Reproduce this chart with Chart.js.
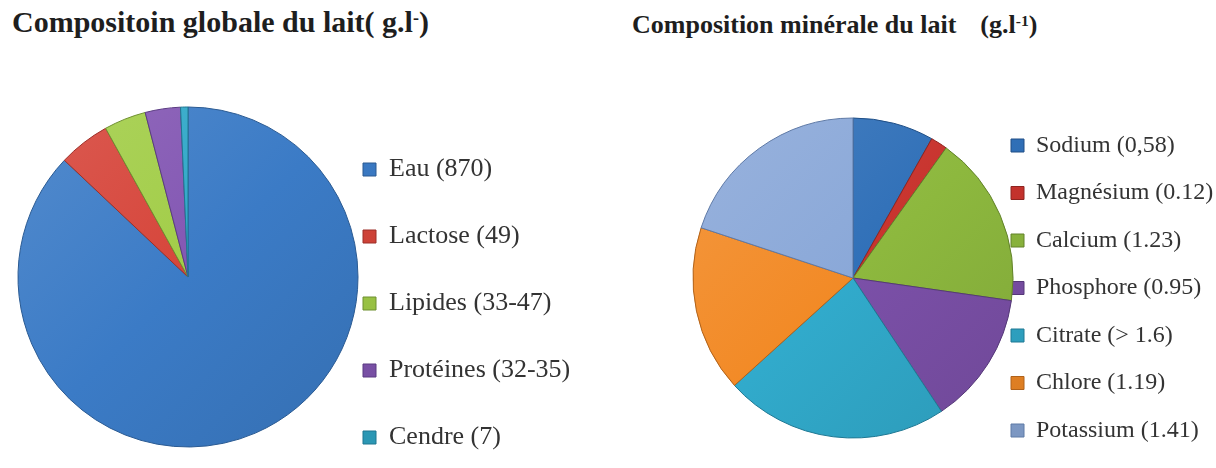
<!DOCTYPE html>
<html>
<head>
<meta charset="utf-8">
<script src="https://cdn.jsdelivr.net/npm/chart.js@4"></script>
<style>
  html, body { margin: 0; padding: 0; background: #fff; }
  body { width: 1216px; height: 468px; overflow: hidden; position: relative; font-family: "Liberation Serif", "Times New Roman", serif; }
  .title { position: absolute; font-weight: bold; color: #1e1e1e; white-space: nowrap; line-height: 1; }
  .title sup { font-size: 0.6em; vertical-align: 0.45em; line-height: 0; }
  .box { position: absolute; top: 0; width: 608px; height: 500px; }
</style>
</head>
<body>
<div class="title" style="left:12px; top:7px; font-size:30px;">Compositoin globale du lait( g.l<sup>-</sup>)</div>
<div class="title" style="left:632px; top:12px; font-size:26px;">Composition minérale du lait<span style="margin-left:24px">(g.l<sup>-1</sup>)</span></div>
<div class="box" style="left:0"><canvas id="globalChart"></canvas></div>
<div class="box" style="left:608px"><canvas id="mineralChart"></canvas></div>
<script>
// composition globale (g/l)
const globalLabels = ['Eau (870)', 'Lactose (49)', 'Lipides (33-47)', 'Protéines (32-35)', 'Cendre (7)'];
const globalValues = [870, 49, 40, 33.5, 7];
const globalColors = ['#3b7bc6', '#d6453a', '#a2cd48', '#8357b3', '#30a8c8'];
const globalBorders = ['#2a5a92', '#9c2f28', '#6f9030', '#5a3a82', '#1f7691'];

// composition minérale (g/l)
const mineralLabels = ['Sodium (0,58)', 'Magnésium (0.12)', 'Calcium (1.23)', 'Phosphore (0.95)', 'Citrate (> 1.6)', 'Chlore (1.19)', 'Potassium (1.41)'];
const mineralValues = [0.58, 0.12, 1.23, 0.95, 1.6, 1.19, 1.41];
const mineralColors = ['#3070b8', '#c8332d', '#8db83e', '#7b50a8', '#31aacb', '#f28a26', '#8aa8d8'];
const mineralBorders = ['#204f86', '#8e2420', '#62822a', '#553878', '#1f7893', '#b0621a', '#5f7aa6'];

// mix a hex colour with white (amt > 0) or black (amt < 0)
function shade(hex, amt) {
  const n = parseInt(hex.slice(1), 16);
  const t = amt < 0 ? 0 : 255, p = Math.abs(amt);
  const c = [n >> 16, (n >> 8) & 255, n & 255].map(v => Math.round(v + (t - v) * p));
  return 'rgb(' + c.join(',') + ')';
}

// legend box gets a fixed width so the long labels are not clipped
const legendWidth = {
  id: 'legendWidth',
  beforeInit(chart, args, opts) {
    const legend = chart.legend;
    const fit = legend.fit;
    legend.fit = function () {
      fit.call(this);
      this.width = opts.width;
    };
  }
};

function pieChart(id, labels, values, colors, borders, radius, pad, fontSize, gap, legendW) {
  return new Chart(document.getElementById(id), {
    type: 'pie',
    data: {
      labels: labels,
      datasets: [{
        data: values,
        backgroundColor: function (ctx) {
          const base = colors[ctx.dataIndex];
          const area = ctx.chart.chartArea;
          if (!area) return base;
          const cx = (area.left + area.right) / 2, cy = (area.top + area.bottom) / 2;
          const g = ctx.chart.ctx.createLinearGradient(cx - radius, cy - radius, cx + radius, cy + radius);
          g.addColorStop(0, shade(base, 0.12));
          g.addColorStop(0.5, base);
          g.addColorStop(1, shade(base, -0.1));
          return g;
        },
        borderColor: borders,
        borderWidth: 1,
        radius: radius,
        hoverOffset: 0
      }]
    },
    plugins: [legendWidth],
    options: {
      responsive: true,
      maintainAspectRatio: false,
      animation: false,
      layout: { padding: pad },
      plugins: {
        tooltip: { enabled: false },
        legendWidth: { width: legendW },
        legend: {
          position: 'right',
          align: 'end',
          labels: {
            font: { family: '"Liberation Serif", "Times New Roman", serif', size: fontSize },
            color: '#333',
            boxWidth: 13,
            boxHeight: 13,
            padding: gap
          }
        }
      }
    }
  });
}

pieChart('globalChart', globalLabels, globalValues, globalColors, globalBorders, 170,
  { top: 62.5, bottom: 8.5, left: 54, right: 0 }, 26, 41, 286);
pieChart('mineralChart', mineralLabels, mineralValues, mineralColors, mineralBorders, 160,
  { top: 90, bottom: 34, left: 110.5, right: 0 }, 24, 23.5, 228.5);
</script>
</body>
</html>
